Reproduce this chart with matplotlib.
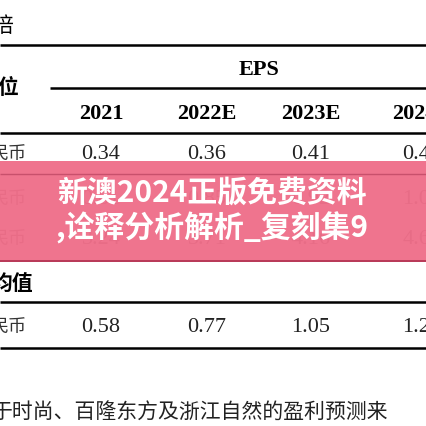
import matplotlib
matplotlib.use("Agg")
import matplotlib.pyplot as plt
from matplotlib.patches import Rectangle

years = ["2021", "2022E", "2023E", "2024E"]
row1 = ["0.34", "0.36", "0.41", "0.46"]
row2 = ["0.61", "0.85", "0.92", "1.05"]
row3 = ["3.24", "3.71", "4.16", "4.62"]
avg = ["0.58", "0.77", "1.05", "1.21"]
banner = ["新澳2024正版免费资料", ",诠释分析解析_复刻集9"]
footer = "于时尚、百隆东方及浙江自然的盈利预测来"

W = H = 427
fig = plt.figure(figsize=(4.27, 4.27), dpi=100)
ax = fig.add_axes([0, 0, 1, 1])
ax.set_xlim(0, W); ax.set_ylim(H, 0); ax.axis("off")

serif = ["Liberation Serif", "DejaVu Serif"]
cjk = ["Noto Sans CJK SC", "DejaVu Sans"]
xs = [101, 207, 311, 422]
NUM = 16

def hline(y, x0=0, x1=W, lw=1.8, color="black"):
    ax.plot([x0, x1], [y, y], color=color, lw=lw, solid_capstyle="butt")

ax.text(13, 26, "倍", family=cjk, fontsize=15, ha="right", va="center")
hline(46)
ax.text(259, 70, "EPS", family=serif, fontsize=NUM, weight="bold", ha="center", va="center")
ax.text(18, 88, "位", family=cjk, fontsize=15, ha="right", va="center", weight="bold")
hline(89, 50)
for x, t in zip(xs, years):
    ax.text(x, 114, t, family=serif, fontsize=NUM, weight="bold", ha="center", va="center")
hline(134)
for y, row in [(155, row1), (200, row2), (240, row3)]:
    ax.text(27, y, "民币", family=cjk, fontsize=13, ha="right", va="center", color="#333")
    for x, t in zip(xs, row):
        ax.text(x, y, t, family=serif, fontsize=NUM, ha="center", va="center", color="#222")

ax.add_patch(Rectangle((0, 162), W, 101, color="#EF6F8A", alpha=0.97, lw=0, zorder=5))
hline(175, lw=1.0, color="#C8506C")
hline(262, lw=1.4, color="#B83A58")
for l in ax.lines[-2:]:
    l.set_zorder(6)
ax.text(57, 193, banner[0], family=cjk, fontsize=21.5, weight="bold", color="white", ha="left", va="center", zorder=7)
ax.text(55, 228, banner[1], family=cjk, fontsize=21.5, weight="bold", color="white", ha="left", va="center", zorder=7)

ax.text(33, 283, "均值", family=cjk, fontsize=15, weight="bold", ha="right", va="center")
hline(303)
ax.text(27, 328, "民币", family=cjk, fontsize=13, ha="right", va="center", color="#333")
for x, t in zip(xs, avg):
    ax.text(x, 328, t, family=serif, fontsize=NUM, ha="center", va="center", color="#222")
hline(349)
ax.text(-8, 412, footer, family=cjk, fontsize=15, ha="left", va="center", color="#222")

fig.savefig("out.png", dpi=100)
